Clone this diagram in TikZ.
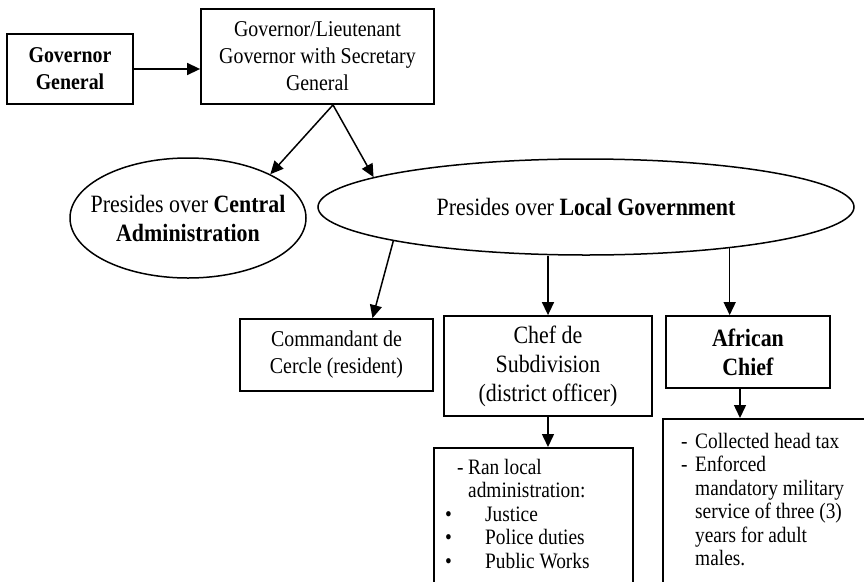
\documentclass[tikz,border=0pt]{standalone}
\usepackage{fontspec}
\setmainfont{Liberation Serif}[FakeStretch=0.88]
\usetikzlibrary{shapes.geometric,arrows.meta,calc}
\begin{document}
\begin{tikzpicture}[x=1pt,y=-1pt,
 box/.style={draw,line width=1.8pt,rectangle,inner sep=0pt,align=center},
 oval/.style={draw,line width=1.5pt,ellipse,inner sep=0pt,align=center},
 arr/.style={line width=1.5pt,-{Triangle[length=13pt,width=12pt]}},
 fa/.style={font=\fontsize{22.6}{27}\selectfont},
 fb/.style={font=\fontsize{24.9}{29}\selectfont},
 fl/.style={font=\fontsize{22}{23.5}\selectfont},
]
\clip (0,0) rectangle (864,581);
\fill[white] (0,0) rectangle (864,581);

\node[box,fa,minimum width=126pt,minimum height=70pt] (gg) at (70,69) {\textbf{Governor}\\\textbf{General}};
\node[box,fa,minimum width=233pt,minimum height=95pt] (gl) at (317.5,56.5) {Governor/Lieutenant\\Governor with Secretary\\General};

\node[oval,minimum width=236pt,minimum height=120pt] (e1) at (188,218) {};
\node[fb,align=center,inner sep=0pt] (e1t) at (e1.center) {Presides over \textbf{Central}\\\textbf{Administration}};
\node[oval,fb,minimum width=536pt,minimum height=96pt] (e2) at (586,207) {Presides over \textbf{Local Government}};

\node[box,fa,minimum width=193pt,minimum height=72pt] (cc) at (336.5,355) {Commandant de\\Cercle (resident)};
\node[box,fb,minimum width=208pt,minimum height=100pt] (cs) at (548,366) {Chef de\\Subdivision\\(district officer)};
\node[box,fb,minimum width=164pt,minimum height=72pt] (ac) at (748,352) {\textbf{African}\\\textbf{Chief}};

\node[box,anchor=north west,minimum width=199pt,minimum height=160pt] (bm) at (433,447) {};
\node[box,anchor=north west,minimum width=230pt,minimum height=190pt] (br) at (662,418) {};

\node[fl,anchor=north west,align=left,inner sep=0pt] (bmt) at (445,459) {%
\hspace*{12pt}\makebox[11pt][l]{-}Ran local\\
\hspace*{23pt}administration:\\
\makebox[40pt][l]{\textbullet}Justice\\
\makebox[40pt][l]{\textbullet}Police duties\\
\makebox[40pt][l]{\textbullet}Public Works};

\node[fl,anchor=north west,align=left,inner sep=0pt] (brt) at (681,433) {%
\makebox[14pt][l]{-}Collected head tax\\
\makebox[14pt][l]{-}Enforced\\
\hspace*{14pt}mandatory military\\
\hspace*{14pt}service of three (3)\\
\hspace*{14pt}years for adult\\
\hspace*{14pt}males.};

\draw[arr] (gg.east) -- (gg.east -| gl.west);
\coordinate (glb) at ($(gl.south)+(15.5,0)$);
\draw[arr] (glb) -- (e1.28);
\draw[arr] (glb) -- (e2.172);
\draw[arr] (e2.190) -- ($(cc.north)+(36,0)$);
\draw[arr] (cs.north |- e2.south) -- (cs.north);
\draw[arr] (e2.-16) -- (e2.-16 |- ac.north);
\draw[arr] (cs.south) -- (cs.south |- bm.north);
\coordinate (acb) at ($(ac.south)+(-8,0)$);
\draw[arr] (acb) -- (acb |- br.north);
\end{tikzpicture}
\end{document}
